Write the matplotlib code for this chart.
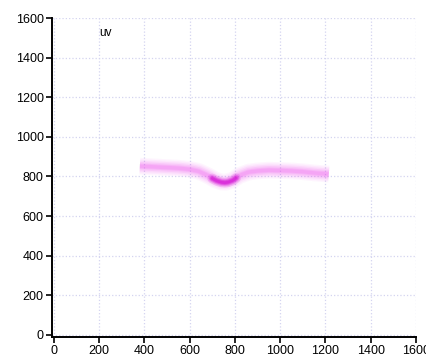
import matplotlib.pyplot as plt

plt.rcParams['font.family'] = ['Liberation Sans', 'DejaVu Sans']

# centre of the uv trace
trace_x = [380, 450, 500, 550, 600, 640, 680, 710, 740, 760, 790, 820, 860, 900, 950, 1000, 1050, 1100, 1150, 1215]
trace_y = [852, 848, 845, 842, 836, 826, 805, 785, 772, 771, 782, 805, 822, 828, 832, 830, 828, 824, 818, 812]

# denser part at the bottom of the dip
dip_x = [700, 720, 740, 755, 770, 790, 805]
dip_y = [790, 778, 771, 769, 771, 780, 792]

x_ticks = [0, 200, 400, 600, 800, 1000, 1200, 1400, 1600]
y_ticks = [0, 200, 400, 600, 800, 1000, 1200, 1400, 1600]

fig = plt.figure(figsize=(4.27, 3.6), dpi=100)
ax = fig.add_axes([0.122, 0.064, 0.852, 0.886])

# blurred band: several wide, faint strokes on top of each other
for lw, a in [(12, 0.05), (10, 0.06), (8, 0.08), (6, 0.1), (4, 0.12), (2.5, 0.12)]:
    ax.plot(trace_x, trace_y, color='#ee33ee', lw=lw, alpha=a,
            solid_capstyle='butt', solid_joinstyle='round')
for lw, a in [(7, 0.15), (5, 0.2), (3.5, 0.3), (2, 0.35)]:
    ax.plot(dip_x, dip_y, color='#d000d0', lw=lw, alpha=a,
            solid_capstyle='round', solid_joinstyle='round')

ax.text(200, 1510, 'uv', fontsize=8.5)

ax.set_xlim(-8, 1600)
ax.set_ylim(-10, 1600)
ax.set_xticks(x_ticks)
ax.set_yticks(y_ticks)
ax.tick_params(labelsize=9, direction='out', length=4.3, width=1.2, pad=1.8)
ax.grid(True, color='#d4d4f0', linestyle=':', linewidth=0.9)
ax.set_axisbelow(True)
for s in ['top', 'right']:
    ax.spines[s].set_visible(False)
for s in ['left', 'bottom']:
    ax.spines[s].set_linewidth(1.4)

fig.savefig('out.png', dpi=100)
